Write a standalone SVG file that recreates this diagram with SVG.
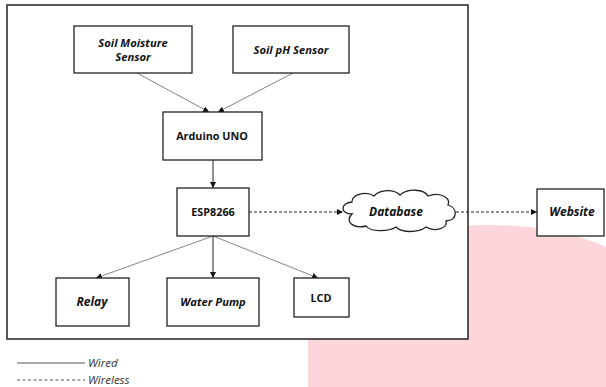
<svg xmlns="http://www.w3.org/2000/svg" width="606" height="387" viewBox="0 0 606 387">
<style>
.box{fill:#fff;stroke:#222;stroke-width:1.3}
.t{font-family:"Open Sans","Liberation Sans",sans-serif;font-size:10.8px;font-weight:bold;fill:#111;text-anchor:middle}
.i{font-style:italic;font-size:11.2px}
.b{font-size:12px}
.w{stroke:#777;stroke-width:0.9;fill:none}
.wv{stroke:#222;stroke-width:1;fill:none}
.d{stroke:#222;stroke-width:1;stroke-dasharray:3,2;fill:none}
.lg{font-family:"Open Sans","Liberation Sans",sans-serif;font-size:11.5px;font-style:italic;fill:#333}
</style>
<defs>
<marker id="ah" viewBox="0 0 10 10" refX="10" refY="5" markerWidth="6" markerHeight="6" orient="auto" markerUnits="userSpaceOnUse">
<path d="M0,0 L10,5 L0,10 Z" fill="#111"/>
</marker>
</defs>
<rect width="606" height="387" fill="#fff"/>
<path d="M308,387 L308,330 C308,250 400,225 490,225 C540,225 580,235 606,247 L606,387 Z" fill="#fdd6db"/>
<rect x="7" y="5" width="461" height="334" fill="#fff" stroke="#222" stroke-width="1.5"/>
<g id="connectors">
<line class="w" x1="137" y1="73" x2="209" y2="112" marker-end="url(#ah)"/>
<line class="w" x1="293" y1="73" x2="218" y2="112" marker-end="url(#ah)"/>
<line class="wv" x1="213" y1="160" x2="213" y2="188" marker-end="url(#ah)"/>
<line class="w" x1="213" y1="236" x2="96" y2="278" marker-end="url(#ah)"/>
<line class="wv" x1="213" y1="236" x2="213" y2="278" marker-end="url(#ah)"/>
<line class="w" x1="213" y1="236" x2="318" y2="278" marker-end="url(#ah)"/>
<line class="d" x1="249" y1="212" x2="343" y2="212" marker-end="url(#ah)"/>
<line class="d" x1="456" y1="212" x2="537" y2="212" marker-end="url(#ah)"/>
</g>
<g id="soil-moisture"><rect class="box" x="74" y="26" width="118" height="47"/><text class="t i" x="133" y="47">Soil Moisture</text><text class="t i" x="133" y="61">Sensor</text></g>
<g id="soil-ph"><rect class="box" x="233" y="26" width="116" height="47"/><text class="t i" x="291" y="54">Soil pH Sensor</text></g>
<g id="arduino"><rect class="box" x="163" y="112" width="99" height="48"/><text class="t" x="212" y="140">Arduino UNO</text></g>
<g id="esp"><rect class="box" x="177" y="188" width="72" height="48"/><text class="t" x="213" y="216">ESP8266</text></g>
<g id="relay"><rect class="box" x="56" y="278" width="73" height="48"/><text class="t i b" x="92" y="306">Relay</text></g>
<g id="pump"><rect class="box" x="167" y="278" width="92" height="48"/><text class="t i" x="213" y="306">Water Pump</text></g>
<g id="lcd"><rect class="box" x="294" y="278" width="55" height="39"/><text class="t" x="321" y="302">LCD</text></g>
<g id="database">
<path class="box" d="M352,214 C340,214 340,203 352,202 C352,194 366,191 374,196 C380,189 394,189 400,195 C408,188 424,189 428,196 C438,192 452,197 448,205 C458,208 458,220 446,221 C448,229 434,232 426,227 C418,233 402,233 396,227 C388,232 370,232 366,226 C354,229 344,222 352,214 Z"/>
<text class="t i b" x="396" y="216">Database</text>
</g>
<g id="website"><rect class="box" x="537" y="189" width="67" height="47"/><text class="t i b" x="572" y="216">Website</text></g>
<g id="legend">
<line x1="17" y1="363" x2="85" y2="363" stroke="#555" stroke-width="1"/>
<text class="lg" x="88" y="367">Wired</text>
<line x1="17" y1="380" x2="85" y2="380" stroke="#555" stroke-width="1" stroke-dasharray="3,2.5"/>
<text class="lg" x="88" y="383.5">Wireless</text>
</g>
</svg>
